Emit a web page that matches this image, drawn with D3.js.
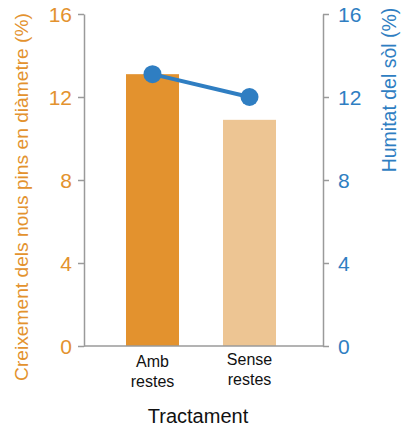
<!DOCTYPE html>
<html><head><meta charset="utf-8">
<script src="https://cdn.jsdelivr.net/npm/d3@7"></script>
<style>body{margin:0;background:#fff}svg{display:block}text{font-family:"Liberation Sans",Arial,sans-serif}</style>
</head><body>
<svg id="c" width="405" height="433"></svg>
<script>
const categories = ["Amb restes", "Sense restes"];
const growth = [13.1, 10.9];
const humidity = [13.1, 12.0];
const ticks = [0, 4, 8, 12, 16];
const barColors = ["#E3922E", "#EDC593"];
const orange = "#E3922E", blue = "#2F7EC2", grey = "#9a9a9a";

const svg = d3.select("#c");
const x0 = 84, x1 = 323;
const y = d3.scaleLinear().domain([0, 16]).range([346, 14]);
const x = d3.scaleBand().domain(categories).range([82, 320]).paddingInner(0.4536).paddingOuter(0.4536);

// bars
svg.selectAll("rect.bar").data(categories).join("rect")
  .attr("x", d => x(d)).attr("width", x.bandwidth())
  .attr("y", (d, i) => y(growth[i])).attr("height", (d, i) => y(0) - y(growth[i]))
  .attr("fill", (d, i) => barColors[i]);

// left axis
const la = svg.append("g").attr("transform", `translate(${x0},0)`).call(d3.axisLeft(y).tickValues(ticks).tickSize(6).tickPadding(6).tickSizeOuter(0));
la.select(".domain").attr("stroke", grey).attr("stroke-width", 1.5);
la.selectAll(".tick line").attr("stroke", grey).attr("stroke-width", 1.5);
la.selectAll(".tick text").attr("fill", orange).attr("font-size", 21).attr("dy", "0.36em");

// right axis
const ra = svg.append("g").attr("transform", `translate(${x1},0)`).call(d3.axisRight(y).tickValues(ticks).tickSize(6).tickPadding(9).tickSizeOuter(0));
ra.select(".domain").attr("stroke", grey).attr("stroke-width", 1.5);
ra.selectAll(".tick line").attr("stroke", grey).attr("stroke-width", 1.5);
ra.selectAll(".tick text").attr("fill", blue).attr("font-size", 21).attr("dy", "0.36em");

// baseline
svg.append("line").attr("x1", x0).attr("x2", x1).attr("y1", y(0)).attr("y2", y(0)).attr("stroke", grey).attr("stroke-width", 1.5);

// line + points
const cx = d => x(d) + x.bandwidth() / 2;
svg.append("path").datum(categories)
  .attr("d", d3.line().x(cx).y((d, i) => y(humidity[i])))
  .attr("fill", "none").attr("stroke", blue).attr("stroke-width", 4);
svg.selectAll("circle.pt").data(categories).join("circle")
  .attr("cx", cx).attr("cy", (d, i) => y(humidity[i])).attr("r", 9).attr("fill", blue);

// x labels
categories.forEach((c, i) => {
  const parts = c.split(" ");
  const t = svg.append("text").attr("x", cx(c)).attr("text-anchor", "middle").attr("font-size", 16).attr("fill", "#111");
  parts.forEach((p, j) => t.append("tspan").attr("x", cx(c)).attr("y", (i === 0 ? 367 : 365) + j * 20).text(p));
});

svg.append("text").attr("x", 198).attr("y", 423).attr("text-anchor", "middle").attr("font-size", 20).attr("fill", "#111").text("Tractament");

svg.append("text").attr("transform", "translate(28,197) rotate(-90)").attr("text-anchor", "middle").attr("font-size", 19.2).attr("fill", orange).text("Creixement dels nous pins en diàmetre (%)");
svg.append("text").attr("transform", "translate(396,90) rotate(-90)").attr("text-anchor", "middle").attr("font-size", 19.5).attr("fill", blue).text("Humitat del sòl (%)");
</script>
</body></html>
